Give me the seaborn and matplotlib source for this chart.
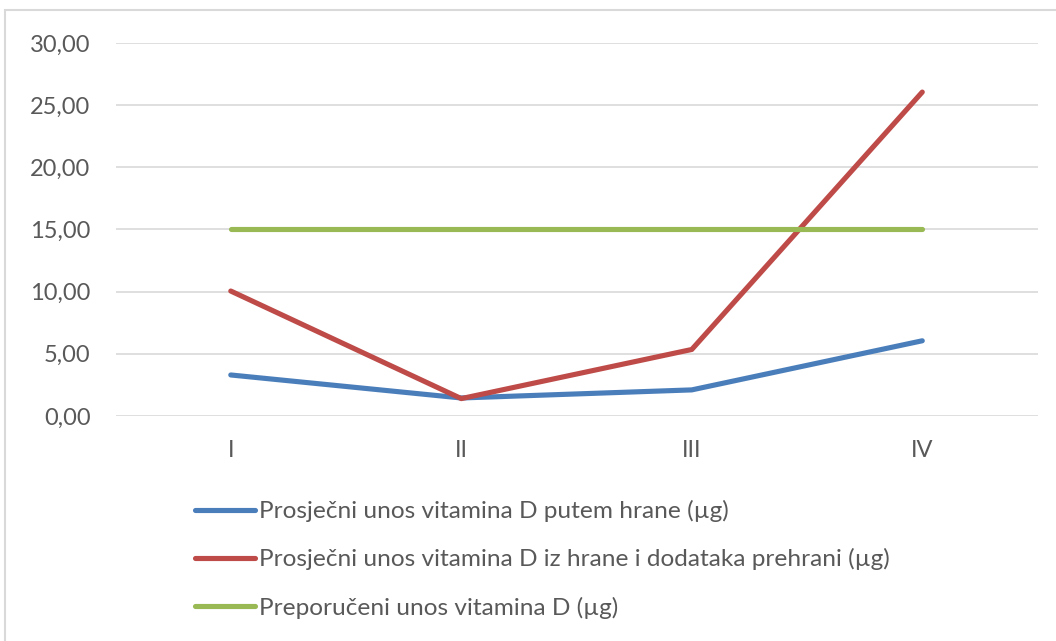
import matplotlib
matplotlib.use("Agg")
import matplotlib.pyplot as plt
import seaborn as sns
import pandas as pd
from matplotlib.patches import Rectangle

# data
categories = ["I", "II", "III", "IV"]
food = [3.30, 1.45, 2.10, 6.05]
food_supp = [10.05, 1.40, 5.35, 26.05]
recommended = [15.00, 15.00, 15.00, 15.00]

labels = [
    "Prosječni unos vitamina D putem hrane (µg)",
    "Prosječni unos vitamina D iz hrane i dodataka prehrani (µg)",
    "Preporučeni unos vitamina D (µg)",
]
colors = ["#4a7ebb", "#be4b48", "#98b954"]

df = pd.DataFrame({"cat": categories, labels[0]: food,
                   labels[1]: food_supp, labels[2]: recommended})
long = df.melt(id_vars="cat", var_name="series", value_name="value")

sns.set_style("white")
plt.rcParams["font.family"] = ["Lato", "DejaVu Sans"]

fig = plt.figure(figsize=(10.56, 6.41), dpi=100)
ax = fig.add_axes([0.1094, 0.351, 0.8731, 0.582])

sns.lineplot(data=long, x="cat", y="value", hue="series", hue_order=labels,
             palette=colors, linewidth=3.7, ax=ax, legend=False, sort=False)

ax.set_xlim(-0.5, 3.5)
ax.set_ylim(0, 30)
ax.set_yticks(range(0, 31, 5))
ax.set_yticklabels([f"{v:.2f}".replace(".", ",") for v in range(0, 31, 5)])
ax.grid(axis="y", color="#d9d9d9", linewidth=1.2)
ax.set_axisbelow(True)
for s in ax.spines.values():
    s.set_visible(False)
ax.tick_params(axis="both", length=0, labelsize=17, colors="#595959")
ax.tick_params(axis="x", pad=17)
ax.tick_params(axis="y", pad=18)
ax.set_xlabel("")
ax.set_ylabel("")

# legend below the plot, one entry per row
handles = [plt.Line2D([], [], color=c, linewidth=3.7) for c in colors]
fig.legend(handles, labels, loc="upper left", bbox_to_anchor=(0.1847, 0.22),
           frameon=False, fontsize=17.6, labelcolor="#595959", handlelength=2.45,
           handletextpad=0.15, labelspacing=1.07, borderaxespad=0, borderpad=0)

# light border of the chart area
fig.patches.append(Rectangle((0.005, -0.01), 1.0, 0.995, transform=fig.transFigure,
                             fill=False, edgecolor="#d9d9d9", linewidth=1.5))

fig.savefig("out.png", dpi=100)
